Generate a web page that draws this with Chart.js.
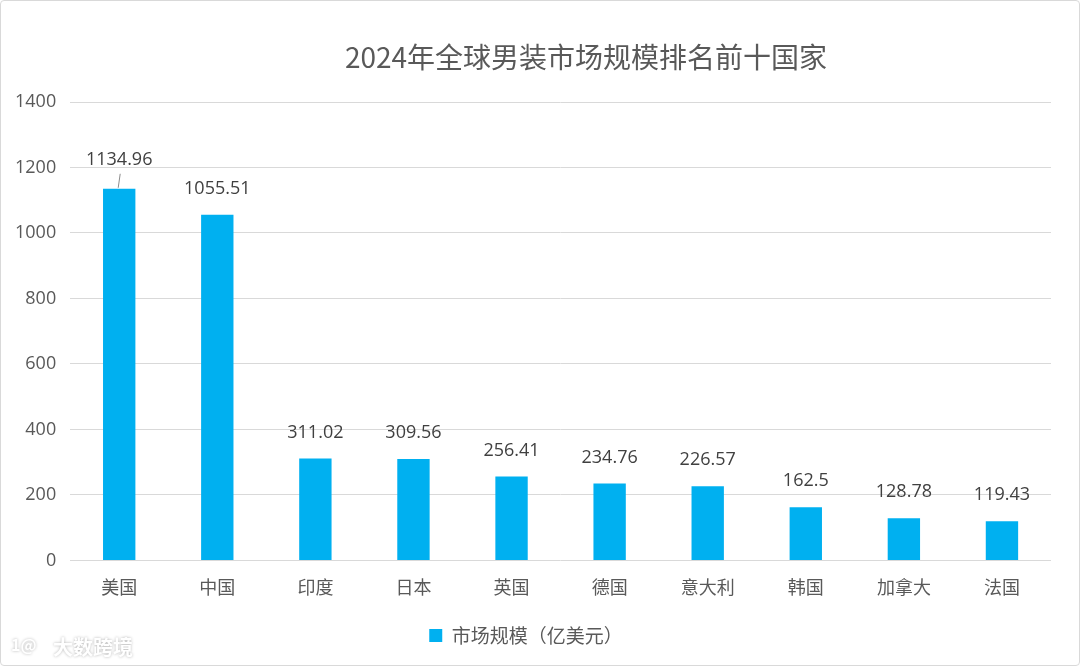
<!DOCTYPE html>
<html>
<head>
<meta charset="utf-8">
<script src="https://cdn.jsdelivr.net/npm/chart.js@4.4.1/dist/chart.umd.min.js"></script>
<style>
  html, body { margin: 0; padding: 0; background: #fff; }
  #wrap { width: 1078px; height: 664px; border: 1px solid #d9d9d9; border-radius: 4px; position: relative; }
  canvas { display: block; }
</style>
</head>
<body>
<div id="wrap"><canvas id="graphique" width="1078" height="664"></canvas></div>
<script>
var pays = ["美国", "中国", "印度", "日本", "英国", "德国", "意大利", "韩国", "加拿大", "法国"];
var marche = [1134.96, 1055.51, 311.02, 309.56, 256.41, 234.76, 226.57, 162.5, 128.78, 119.43];
var titre = "2024年全球男装市场规模排名前十国家";
var legende = "市场规模（亿美元）";

var police = "'Noto Sans CJK SC', 'Open Sans', sans-serif";

// Etiquettes au-dessus des barres + titre + filigrane
var etiquettes = {
  id: "etiquettes",
  afterDatasetsDraw: function(chart) {
    var ctx = chart.ctx;
    var meta = chart.getDatasetMeta(0);
    ctx.save();
    ctx.font = "18px 'Open Sans', sans-serif";
    ctx.fillStyle = "#404040";
    ctx.textAlign = "center";
    ctx.textBaseline = "middle";
    meta.data.forEach(function(bar, i) {
      var y = bar.y - 26;
      if (i === 0) {
        y = bar.y - 29;
        ctx.strokeStyle = "#8c8c8c";
        ctx.lineWidth = 1;
        ctx.beginPath();
        ctx.moveTo(bar.x - 1, bar.y - 1);
        ctx.lineTo(bar.x + 1, bar.y - 15);
        ctx.stroke();
      }
      ctx.fillText(String(marche[i]), bar.x, y);
    });
    ctx.restore();
  },
  afterDraw: function(chart) {
    var ctx = chart.ctx;
    ctx.save();
    ctx.font = "28px " + police;
    ctx.fillStyle = "#595959";
    ctx.textAlign = "center";
    ctx.textBaseline = "middle";
    ctx.fillText(titre, 585, 56);

    ctx.font = "bold 20px " + police;
    ctx.fillStyle = "#ffffff";
    ctx.shadowColor = "rgba(0,0,0,0.3)";
    ctx.shadowBlur = 3;
    ctx.textAlign = "left";
    ctx.fillText("大数跨境", 52, 646);
    ctx.font = "bold 16px " + police;
    ctx.fillText("1@", 10, 644);
    ctx.restore();
  }
};

var ctx = document.getElementById("graphique").getContext("2d");
var chart = new Chart(ctx, {
  type: "bar",
  data: {
    labels: pays,
    datasets: [
      {
        label: legende,
        data: marche,
        backgroundColor: "#00B0F0",
        categoryPercentage: 1.0,
        barPercentage: 0.33
      }
    ]
  },
  options: {
    responsive: false,
    animation: false,
    layout: {
      padding: { top: 101, right: 28, left: 0, bottom: 10 }
    },
    plugins: {
      title: { display: false },
      tooltip: { enabled: false },
      legend: {
        position: "bottom",
        labels: {
          font: { family: police, size: 19 },
          color: "#595959",
          boxWidth: 13,
          boxHeight: 13,
          padding: 20
        }
      }
    },
    scales: {
      x: {
        grid: { display: false },
        border: { display: false },
        ticks: {
          font: { family: police, size: 18 },
          color: "#595959",
          padding: 8
        }
      },
      y: {
        min: 0,
        max: 1400,
        ticks: {
          stepSize: 200,
          font: { family: "'Open Sans', sans-serif", size: 18 },
          color: "#595959",
          padding: 14,
          callback: function(v) { return String(v); }
        },
        grid: { color: "#d9d9d9", drawTicks: false },
        border: { display: false }
      }
    }
  },
  plugins: [etiquettes]
});
</script>
</body>
</html>
